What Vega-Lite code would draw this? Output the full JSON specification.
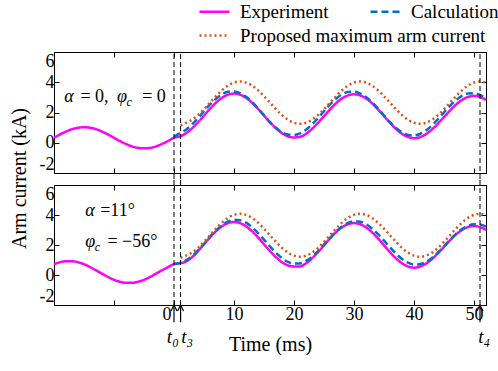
{
  "$schema": "https://vega.github.io/schema/vega-lite/v6.json",
  "padding": {"left": 8, "top": 2, "right": 0, "bottom": 0},
  "background": "white",
  "datasets": {
    "top": [
      {"s":"Experiment","t":-20,"v":0.33},{"s":"Experiment","t":-19,"v":0.55},{"s":"Experiment","t":-18,"v":0.74},{"s":"Experiment","t":-17,"v":0.90},{"s":"Experiment","t":-16,"v":0.99},{"s":"Experiment","t":-15,"v":1.03},{"s":"Experiment","t":-14,"v":0.99},{"s":"Experiment","t":-13,"v":0.90},{"s":"Experiment","t":-12,"v":0.74},{"s":"Experiment","t":-11,"v":0.55},{"s":"Experiment","t":-10,"v":0.33},{"s":"Experiment","t":-9,"v":0.11},{"s":"Experiment","t":-8,"v":-0.08},{"s":"Experiment","t":-7,"v":-0.24},{"s":"Experiment","t":-6,"v":-0.34},{"s":"Experiment","t":-5,"v":-0.37},{"s":"Experiment","t":-4,"v":-0.34},{"s":"Experiment","t":-3,"v":-0.24},{"s":"Experiment","t":-2,"v":-0.08},{"s":"Experiment","t":-1,"v":0.11},{"s":"Experiment","t":0,"v":0.33},
      {"s":"Experiment","t":1,"v":0.42},{"s":"Experiment","t":2,"v":0.63},{"s":"Experiment","t":3,"v":0.95},{"s":"Experiment","t":4,"v":1.35},{"s":"Experiment","t":5,"v":1.80},{"s":"Experiment","t":6,"v":2.25},{"s":"Experiment","t":7,"v":2.65},{"s":"Experiment","t":8,"v":2.97},{"s":"Experiment","t":9,"v":3.18},{"s":"Experiment","t":10,"v":3.25},{"s":"Experiment","t":11,"v":3.18},{"s":"Experiment","t":12,"v":2.97},{"s":"Experiment","t":13,"v":2.65},{"s":"Experiment","t":14,"v":2.25},{"s":"Experiment","t":15,"v":1.80},{"s":"Experiment","t":16,"v":1.35},{"s":"Experiment","t":17,"v":0.95},{"s":"Experiment","t":18,"v":0.63},{"s":"Experiment","t":19,"v":0.42},{"s":"Experiment","t":20,"v":0.35},
      {"s":"Experiment","t":21,"v":0.39},{"s":"Experiment","t":22,"v":0.59},{"s":"Experiment","t":23,"v":0.91},{"s":"Experiment","t":24,"v":1.32},{"s":"Experiment","t":25,"v":1.76},{"s":"Experiment","t":26,"v":2.20},{"s":"Experiment","t":27,"v":2.61},{"s":"Experiment","t":28,"v":2.93},{"s":"Experiment","t":29,"v":3.13},{"s":"Experiment","t":30,"v":3.20},{"s":"Experiment","t":31,"v":3.13},{"s":"Experiment","t":32,"v":2.93},{"s":"Experiment","t":33,"v":2.61},{"s":"Experiment","t":34,"v":2.20},{"s":"Experiment","t":35,"v":1.76},{"s":"Experiment","t":36,"v":1.32},{"s":"Experiment","t":37,"v":0.91},{"s":"Experiment","t":38,"v":0.59},{"s":"Experiment","t":39,"v":0.39},{"s":"Experiment","t":40,"v":0.30},
      {"s":"Experiment","t":41,"v":0.37},{"s":"Experiment","t":42,"v":0.57},{"s":"Experiment","t":43,"v":0.88},{"s":"Experiment","t":44,"v":1.27},{"s":"Experiment","t":45,"v":1.70},{"s":"Experiment","t":46,"v":2.13},{"s":"Experiment","t":47,"v":2.52},{"s":"Experiment","t":48,"v":2.83},{"s":"Experiment","t":49,"v":3.03},{"s":"Experiment","t":50,"v":3.10},{"s":"Experiment","t":51,"v":3.03},{"s":"Experiment","t":52,"v":2.83},
      {"s":"Calculation","t":0,"v":0.40},{"s":"Calculation","t":1,"v":0.64},{"s":"Calculation","t":2,"v":0.86},{"s":"Calculation","t":3,"v":1.21},{"s":"Calculation","t":4,"v":1.63},{"s":"Calculation","t":5,"v":2.09},{"s":"Calculation","t":6,"v":2.53},{"s":"Calculation","t":7,"v":2.91},{"s":"Calculation","t":8,"v":3.20},{"s":"Calculation","t":9,"v":3.37},{"s":"Calculation","t":10,"v":3.39},{"s":"Calculation","t":11,"v":3.28},{"s":"Calculation","t":12,"v":3.04},{"s":"Calculation","t":13,"v":2.69},{"s":"Calculation","t":14,"v":2.27},{"s":"Calculation","t":15,"v":1.81},{"s":"Calculation","t":16,"v":1.37},{"s":"Calculation","t":17,"v":0.99},{"s":"Calculation","t":18,"v":0.70},{"s":"Calculation","t":19,"v":0.54},
      {"s":"Calculation","t":20,"v":0.51},{"s":"Calculation","t":21,"v":0.62},{"s":"Calculation","t":22,"v":0.86},{"s":"Calculation","t":23,"v":1.21},{"s":"Calculation","t":24,"v":1.63},{"s":"Calculation","t":25,"v":2.09},{"s":"Calculation","t":26,"v":2.53},{"s":"Calculation","t":27,"v":2.91},{"s":"Calculation","t":28,"v":3.20},{"s":"Calculation","t":29,"v":3.36},{"s":"Calculation","t":30,"v":3.38},{"s":"Calculation","t":31,"v":3.27},{"s":"Calculation","t":32,"v":3.03},{"s":"Calculation","t":33,"v":2.68},{"s":"Calculation","t":34,"v":2.26},{"s":"Calculation","t":35,"v":1.80},{"s":"Calculation","t":36,"v":1.36},{"s":"Calculation","t":37,"v":0.98},{"s":"Calculation","t":38,"v":0.69},{"s":"Calculation","t":39,"v":0.52},
      {"s":"Calculation","t":40,"v":0.48},{"s":"Calculation","t":41,"v":0.58},{"s":"Calculation","t":42,"v":0.81},{"s":"Calculation","t":43,"v":1.15},{"s":"Calculation","t":44,"v":1.56},{"s":"Calculation","t":45,"v":2.01},{"s":"Calculation","t":46,"v":2.44},{"s":"Calculation","t":47,"v":2.82},{"s":"Calculation","t":48,"v":3.10},{"s":"Calculation","t":49,"v":3.26},{"s":"Calculation","t":50,"v":3.28},{"s":"Calculation","t":51,"v":3.17},{"s":"Calculation","t":52,"v":2.94},
      {"s":"Proposed maximum arm current","t":1.1,"v":1.15},{"s":"Proposed maximum arm current","t":2,"v":1.32},{"s":"Proposed maximum arm current","t":3,"v":1.52},{"s":"Proposed maximum arm current","t":4,"v":1.83},{"s":"Proposed maximum arm current","t":5,"v":2.22},{"s":"Proposed maximum arm current","t":6,"v":2.65},{"s":"Proposed maximum arm current","t":7,"v":3.08},{"s":"Proposed maximum arm current","t":8,"v":3.47},{"s":"Proposed maximum arm current","t":9,"v":3.78},{"s":"Proposed maximum arm current","t":10,"v":3.98},{"s":"Proposed maximum arm current","t":11,"v":4.05},{"s":"Proposed maximum arm current","t":12,"v":3.98},{"s":"Proposed maximum arm current","t":13,"v":3.78},{"s":"Proposed maximum arm current","t":14,"v":3.47},{"s":"Proposed maximum arm current","t":15,"v":3.08},{"s":"Proposed maximum arm current","t":16,"v":2.65},{"s":"Proposed maximum arm current","t":17,"v":2.22},{"s":"Proposed maximum arm current","t":18,"v":1.83},{"s":"Proposed maximum arm current","t":19,"v":1.52},{"s":"Proposed maximum arm current","t":20,"v":1.32},
      {"s":"Proposed maximum arm current","t":21,"v":1.25},{"s":"Proposed maximum arm current","t":22,"v":1.32},{"s":"Proposed maximum arm current","t":23,"v":1.52},{"s":"Proposed maximum arm current","t":24,"v":1.83},{"s":"Proposed maximum arm current","t":25,"v":2.22},{"s":"Proposed maximum arm current","t":26,"v":2.65},{"s":"Proposed maximum arm current","t":27,"v":3.08},{"s":"Proposed maximum arm current","t":28,"v":3.47},{"s":"Proposed maximum arm current","t":29,"v":3.78},{"s":"Proposed maximum arm current","t":30,"v":3.98},{"s":"Proposed maximum arm current","t":31,"v":4.05},{"s":"Proposed maximum arm current","t":32,"v":3.98},{"s":"Proposed maximum arm current","t":33,"v":3.78},{"s":"Proposed maximum arm current","t":34,"v":3.47},{"s":"Proposed maximum arm current","t":35,"v":3.08},{"s":"Proposed maximum arm current","t":36,"v":2.65},{"s":"Proposed maximum arm current","t":37,"v":2.22},{"s":"Proposed maximum arm current","t":38,"v":1.83},{"s":"Proposed maximum arm current","t":39,"v":1.52},{"s":"Proposed maximum arm current","t":40,"v":1.32},
      {"s":"Proposed maximum arm current","t":41,"v":1.25},{"s":"Proposed maximum arm current","t":42,"v":1.32},{"s":"Proposed maximum arm current","t":43,"v":1.52},{"s":"Proposed maximum arm current","t":44,"v":1.83},{"s":"Proposed maximum arm current","t":45,"v":2.22},{"s":"Proposed maximum arm current","t":46,"v":2.65},{"s":"Proposed maximum arm current","t":47,"v":3.08},{"s":"Proposed maximum arm current","t":48,"v":3.47},{"s":"Proposed maximum arm current","t":49,"v":3.78},{"s":"Proposed maximum arm current","t":50,"v":3.98},{"s":"Proposed maximum arm current","t":51,"v":4.05},{"s":"Proposed maximum arm current","t":52,"v":3.98}
    ],
    "bottom": [
      {"s":"Experiment","t":-20,"v":0.72},{"s":"Experiment","t":-19,"v":0.85},{"s":"Experiment","t":-18,"v":0.92},{"s":"Experiment","t":-17,"v":0.92},{"s":"Experiment","t":-16,"v":0.85},{"s":"Experiment","t":-15,"v":0.72},{"s":"Experiment","t":-14,"v":0.53},{"s":"Experiment","t":-13,"v":0.31},{"s":"Experiment","t":-12,"v":0.09},{"s":"Experiment","t":-11,"v":-0.13},{"s":"Experiment","t":-10,"v":-0.32},{"s":"Experiment","t":-9,"v":-0.45},{"s":"Experiment","t":-8,"v":-0.52},{"s":"Experiment","t":-7,"v":-0.52},{"s":"Experiment","t":-6,"v":-0.45},{"s":"Experiment","t":-5,"v":-0.32},{"s":"Experiment","t":-4,"v":-0.13},{"s":"Experiment","t":-3,"v":0.09},{"s":"Experiment","t":-2,"v":0.31},{"s":"Experiment","t":-1,"v":0.53},{"s":"Experiment","t":0,"v":0.72},
      {"s":"Experiment","t":1,"v":0.78},{"s":"Experiment","t":2,"v":0.90},{"s":"Experiment","t":3,"v":1.18},{"s":"Experiment","t":4,"v":1.59},{"s":"Experiment","t":5,"v":2.05},{"s":"Experiment","t":6,"v":2.51},{"s":"Experiment","t":7,"v":2.92},{"s":"Experiment","t":8,"v":3.25},{"s":"Experiment","t":9,"v":3.46},{"s":"Experiment","t":10,"v":3.53},{"s":"Experiment","t":11,"v":3.46},{"s":"Experiment","t":12,"v":3.25},{"s":"Experiment","t":13,"v":2.92},{"s":"Experiment","t":14,"v":2.51},{"s":"Experiment","t":15,"v":2.05},{"s":"Experiment","t":16,"v":1.59},{"s":"Experiment","t":17,"v":1.18},{"s":"Experiment","t":18,"v":0.85},{"s":"Experiment","t":19,"v":0.64},{"s":"Experiment","t":20,"v":0.57},
      {"s":"Experiment","t":21,"v":0.57},{"s":"Experiment","t":22,"v":0.78},{"s":"Experiment","t":23,"v":1.11},{"s":"Experiment","t":24,"v":1.52},{"s":"Experiment","t":25,"v":1.98},{"s":"Experiment","t":26,"v":2.44},{"s":"Experiment","t":27,"v":2.85},{"s":"Experiment","t":28,"v":3.18},{"s":"Experiment","t":29,"v":3.39},{"s":"Experiment","t":30,"v":3.46},{"s":"Experiment","t":31,"v":3.39},{"s":"Experiment","t":32,"v":3.18},{"s":"Experiment","t":33,"v":2.85},{"s":"Experiment","t":34,"v":2.44},{"s":"Experiment","t":35,"v":1.98},{"s":"Experiment","t":36,"v":1.52},{"s":"Experiment","t":37,"v":1.11},{"s":"Experiment","t":38,"v":0.78},{"s":"Experiment","t":39,"v":0.57},{"s":"Experiment","t":40,"v":0.49},
      {"s":"Experiment","t":41,"v":0.56},{"s":"Experiment","t":42,"v":0.76},{"s":"Experiment","t":43,"v":1.06},{"s":"Experiment","t":44,"v":1.45},{"s":"Experiment","t":45,"v":1.88},{"s":"Experiment","t":46,"v":2.31},{"s":"Experiment","t":47,"v":2.70},{"s":"Experiment","t":48,"v":3.00},{"s":"Experiment","t":49,"v":3.20},{"s":"Experiment","t":50,"v":3.27},{"s":"Experiment","t":51,"v":3.20},{"s":"Experiment","t":52,"v":3.00},
      {"s":"Calculation","t":0,"v":0.74},{"s":"Calculation","t":1,"v":0.80},{"s":"Calculation","t":2,"v":0.97},{"s":"Calculation","t":3,"v":1.25},{"s":"Calculation","t":4,"v":1.64},{"s":"Calculation","t":5,"v":2.08},{"s":"Calculation","t":6,"v":2.54},{"s":"Calculation","t":7,"v":2.97},{"s":"Calculation","t":8,"v":3.32},{"s":"Calculation","t":9,"v":3.57},{"s":"Calculation","t":10,"v":3.68},{"s":"Calculation","t":11,"v":3.65},{"s":"Calculation","t":12,"v":3.49},{"s":"Calculation","t":13,"v":3.19},{"s":"Calculation","t":14,"v":2.80},{"s":"Calculation","t":15,"v":2.36},{"s":"Calculation","t":16,"v":1.90},{"s":"Calculation","t":17,"v":1.47},{"s":"Calculation","t":18,"v":1.12},{"s":"Calculation","t":19,"v":0.87},
      {"s":"Calculation","t":20,"v":0.76},{"s":"Calculation","t":21,"v":0.77},{"s":"Calculation","t":22,"v":0.94},{"s":"Calculation","t":23,"v":1.21},{"s":"Calculation","t":24,"v":1.59},{"s":"Calculation","t":25,"v":2.02},{"s":"Calculation","t":26,"v":2.47},{"s":"Calculation","t":27,"v":2.89},{"s":"Calculation","t":28,"v":3.23},{"s":"Calculation","t":29,"v":3.47},{"s":"Calculation","t":30,"v":3.58},{"s":"Calculation","t":31,"v":3.55},{"s":"Calculation","t":32,"v":3.39},{"s":"Calculation","t":33,"v":3.10},{"s":"Calculation","t":34,"v":2.72},{"s":"Calculation","t":35,"v":2.29},{"s":"Calculation","t":36,"v":1.84},{"s":"Calculation","t":37,"v":1.42},{"s":"Calculation","t":38,"v":1.07},{"s":"Calculation","t":39,"v":0.82},
      {"s":"Calculation","t":40,"v":0.70},{"s":"Calculation","t":41,"v":0.72},{"s":"Calculation","t":42,"v":0.88},{"s":"Calculation","t":43,"v":1.14},{"s":"Calculation","t":44,"v":1.50},{"s":"Calculation","t":45,"v":1.91},{"s":"Calculation","t":46,"v":2.34},{"s":"Calculation","t":47,"v":2.74},{"s":"Calculation","t":48,"v":3.06},{"s":"Calculation","t":49,"v":3.28},{"s":"Calculation","t":50,"v":3.38},{"s":"Calculation","t":51,"v":3.36},{"s":"Calculation","t":52,"v":3.22},
      {"s":"Proposed maximum arm current","t":1.1,"v":1.15},{"s":"Proposed maximum arm current","t":2,"v":1.29},{"s":"Proposed maximum arm current","t":3,"v":1.49},{"s":"Proposed maximum arm current","t":4,"v":1.81},{"s":"Proposed maximum arm current","t":5,"v":2.21},{"s":"Proposed maximum arm current","t":6,"v":2.65},{"s":"Proposed maximum arm current","t":7,"v":3.09},{"s":"Proposed maximum arm current","t":8,"v":3.49},{"s":"Proposed maximum arm current","t":9,"v":3.81},{"s":"Proposed maximum arm current","t":10,"v":4.01},{"s":"Proposed maximum arm current","t":11,"v":4.08},{"s":"Proposed maximum arm current","t":12,"v":4.01},{"s":"Proposed maximum arm current","t":13,"v":3.81},{"s":"Proposed maximum arm current","t":14,"v":3.49},{"s":"Proposed maximum arm current","t":15,"v":3.09},{"s":"Proposed maximum arm current","t":16,"v":2.65},{"s":"Proposed maximum arm current","t":17,"v":2.21},{"s":"Proposed maximum arm current","t":18,"v":1.81},{"s":"Proposed maximum arm current","t":19,"v":1.49},{"s":"Proposed maximum arm current","t":20,"v":1.29},
      {"s":"Proposed maximum arm current","t":21,"v":1.22},{"s":"Proposed maximum arm current","t":22,"v":1.29},{"s":"Proposed maximum arm current","t":23,"v":1.49},{"s":"Proposed maximum arm current","t":24,"v":1.81},{"s":"Proposed maximum arm current","t":25,"v":2.21},{"s":"Proposed maximum arm current","t":26,"v":2.65},{"s":"Proposed maximum arm current","t":27,"v":3.09},{"s":"Proposed maximum arm current","t":28,"v":3.49},{"s":"Proposed maximum arm current","t":29,"v":3.81},{"s":"Proposed maximum arm current","t":30,"v":4.01},{"s":"Proposed maximum arm current","t":31,"v":4.08},{"s":"Proposed maximum arm current","t":32,"v":4.01},{"s":"Proposed maximum arm current","t":33,"v":3.81},{"s":"Proposed maximum arm current","t":34,"v":3.49},{"s":"Proposed maximum arm current","t":35,"v":3.09},{"s":"Proposed maximum arm current","t":36,"v":2.65},{"s":"Proposed maximum arm current","t":37,"v":2.21},{"s":"Proposed maximum arm current","t":38,"v":1.81},{"s":"Proposed maximum arm current","t":39,"v":1.49},{"s":"Proposed maximum arm current","t":40,"v":1.29},
      {"s":"Proposed maximum arm current","t":41,"v":1.22},{"s":"Proposed maximum arm current","t":42,"v":1.29},{"s":"Proposed maximum arm current","t":43,"v":1.49},{"s":"Proposed maximum arm current","t":44,"v":1.81},{"s":"Proposed maximum arm current","t":45,"v":2.21},{"s":"Proposed maximum arm current","t":46,"v":2.65},{"s":"Proposed maximum arm current","t":47,"v":3.09},{"s":"Proposed maximum arm current","t":48,"v":3.49},{"s":"Proposed maximum arm current","t":49,"v":3.81},{"s":"Proposed maximum arm current","t":50,"v":4.01},{"s":"Proposed maximum arm current","t":51,"v":4.08},{"s":"Proposed maximum arm current","t":52,"v":4.01}
    ],
    "rulesTop": [{"t":0,"a":-2.4,"b":6},{"t":1.1,"a":-2.4,"b":6},{"t":51,"a":-2.4,"b":6}],
    "rulesBottom": [{"t":0,"a":-2,"b":6.4},{"t":1.1,"a":-2,"b":6.4},{"t":51,"a":-2,"b":6.4}],
    "arrows": [{"t":0,"a":-3.15,"b":-2,"h":-2.2},{"t":1.1,"a":-3.15,"b":-2,"h":-2.2},{"t":51,"a":-3.15,"b":-2,"h":-2.2}],
    "tlabels": [{"t":-0.2,"v":-4.15,"txt":"t₀"},{"t":2.2,"v":-4.15,"txt":"t₃"},{"t":51.7,"v":-4.15,"txt":"t₄"}],
    "annTopIt": [{"t":-18.3,"v":3.0,"txt":"α"},{"t":-9.5,"v":3.0,"txt":"φ"}],
    "annTopSub": [{"t":-7.9,"v":3.0,"txt":"c"}],
    "annTopUp": [{"t":-15.6,"v":3.0,"txt":"= 0,"},{"t":-5.3,"v":3.0,"txt":"= 0"}],
    "annBotIt": [{"t":-14.8,"v":4.27,"txt":"α"},{"t":-14.8,"v":2.2,"txt":"φ"}],
    "annBotSub": [{"t":-13.2,"v":2.2,"txt":"c"}],
    "annBotUp": [{"t":-12.3,"v":4.27,"txt":"=11°"},{"t":-11.1,"v":2.2,"txt":"= −56°"}]
  },
  "config": {
    "font": "Liberation Serif",
    "view": {"stroke": "black", "strokeWidth": 1},
    "axis": {"grid": false, "domainColor": "black", "tickColor": "black", "labelColor": "black", "titleColor": "black", "labelFont": "Liberation Serif", "titleFont": "Liberation Serif", "labelFontSize": 18, "titleFontSize": 20, "titleFontWeight": "normal", "tickSize": -5, "labelPadding": 5},
    "legend": {"symbolType": "M-2,0H2", "symbolSize": 225, "symbolStrokeWidth": 2.5, "labelFont": "Liberation Serif", "labelFontSize": 19, "labelColor": "black", "labelOffset": 16, "labelLimit": 400, "title": null}
  },
  "bounds": "flush",
  "spacing": 12,
  "vconcat": [
    {
      "width": 432, "height": 121,
      "layer": [
        {
          "data": {"name": "top"},
          "mark": {"type": "line", "interpolate": "monotone"},
          "encoding": {
            "x": {"field": "t", "type": "quantitative", "scale": {"domain": [-20, 52], "nice": false, "zero": false}, "axis": {"orient": "bottom", "values": [-10,0,10,20,30,40,50], "labels": false, "title": null}},
            "y": {"field": "v", "type": "quantitative", "scale": {"domain": [-2, 6], "nice": false, "zero": false}, "axis": {"orient": "left", "values": [-2,0,2,4,6], "labelExpr": "'' + datum.value", "labelFlush": true, "title": "Arm current (kA)", "titleY": 126, "titlePadding": 10}},
            "color": {"field": "s", "type": "nominal", "scale": {"domain": ["Experiment","Calculation","Proposed maximum arm current"], "range": ["#FF00FF","#0072BD","#D95319"]}, "legend": {"title": null, "values": ["Experiment","Calculation"], "orient": "none", "legendX": 151, "legendY": -50, "direction": "horizontal", "columns": 2, "columnPadding": 36}},
            "strokeDash": {"field": "s", "type": "nominal", "scale": {"domain": ["Experiment","Calculation","Proposed maximum arm current"], "range": [[1,0],[7,4],[2,3]]}, "legend": {"title": null, "values": ["Experiment","Calculation"], "orient": "none", "legendX": 151, "legendY": -50, "direction": "horizontal", "columns": 2, "columnPadding": 36}},
            "strokeWidth": {"field": "s", "type": "nominal", "scale": {"domain": ["Proposed maximum arm current","Experiment","Calculation"], "range": [2.5,2.5,2.5]}, "legend": {"title": null, "values": ["Proposed maximum arm current"], "orient": "none", "legendX": 151, "legendY": -26, "symbolStrokeColor": "#D95319", "symbolDash": [2,3]}},
            "order": {"field": "t"}
          }
        },
        {
          "data": {"name": "rulesTop"},
          "mark": {"type": "rule", "color": "black", "strokeWidth": 1, "strokeDash": [5,3], "clip": false},
          "encoding": {
            "x": {"field": "t", "type": "quantitative", "axis": {"orient": "top", "values": [-10,0,10,20,30,40,50], "labels": false, "title": null}},
            "y": {"field": "a", "type": "quantitative", "axis": {"orient": "right", "values": [-2,0,2,4,6], "labels": false, "title": null}},
            "y2": {"field": "b"}
          }
        },
        {
          "data": {"name": "annTopIt"},
          "mark": {"type": "text", "align": "left", "baseline": "middle", "fontSize": 18, "fontStyle": "italic", "color": "black"},
          "encoding": {"x": {"field": "t", "type": "quantitative", "axis": null}, "y": {"field": "v", "type": "quantitative", "axis": null}, "text": {"field": "txt"}}
        },
        {
          "data": {"name": "annTopSub"},
          "mark": {"type": "text", "align": "left", "baseline": "middle", "fontSize": 12, "fontStyle": "italic", "dy": 5, "color": "black"},
          "encoding": {"x": {"field": "t", "type": "quantitative", "axis": null}, "y": {"field": "v", "type": "quantitative", "axis": null}, "text": {"field": "txt"}}
        },
        {
          "data": {"name": "annTopUp"},
          "mark": {"type": "text", "align": "left", "baseline": "middle", "fontSize": 18, "color": "black"},
          "encoding": {"x": {"field": "t", "type": "quantitative", "axis": null}, "y": {"field": "v", "type": "quantitative", "axis": null}, "text": {"field": "txt"}}
        }
      ],
      "resolve": {"axis": {"x": "independent", "y": "independent"}}
    },
    {
      "width": 432, "height": 120,
      "layer": [
        {
          "data": {"name": "bottom"},
          "mark": {"type": "line", "interpolate": "monotone"},
          "encoding": {
            "x": {"field": "t", "type": "quantitative", "scale": {"domain": [-20, 52], "nice": false, "zero": false}, "axis": {"orient": "bottom", "values": [-10,0,10,20,30,40,50], "labelExpr": "datum.value < 0 ? '' : datum.label", "labelAlign": {"condition": {"test": "datum.value == 0", "value": "right"}, "value": "center"}, "labelOffset": {"condition": {"test": "datum.value == 0", "value": -3}, "value": 0}, "title": "Time (ms)", "titlePadding": 11}},
            "y": {"field": "v", "type": "quantitative", "scale": {"domain": [-2, 6], "nice": false, "zero": false}, "axis": {"orient": "left", "values": [-2,0,2,4,6], "labelExpr": "'' + datum.value", "labelFlush": true, "title": null}},
            "color": {"field": "s", "type": "nominal", "legend": {"title": null, "values": ["Experiment","Calculation"], "orient": "none", "legendX": 151, "legendY": -50, "direction": "horizontal", "columns": 2, "columnPadding": 36}},
            "strokeDash": {"field": "s", "type": "nominal", "legend": {"title": null, "values": ["Experiment","Calculation"], "orient": "none", "legendX": 151, "legendY": -50, "direction": "horizontal", "columns": 2, "columnPadding": 36}},
            "strokeWidth": {"field": "s", "type": "nominal", "legend": {"title": null, "values": ["Proposed maximum arm current"], "orient": "none", "legendX": 151, "legendY": -26, "symbolStrokeColor": "#D95319", "symbolDash": [2,3]}},
            "order": {"field": "t"}
          }
        },
        {
          "data": {"name": "rulesBottom"},
          "mark": {"type": "rule", "color": "black", "strokeWidth": 1, "strokeDash": [5,3], "clip": false},
          "encoding": {
            "x": {"field": "t", "type": "quantitative", "axis": {"orient": "top", "values": [-10,0,10,20,30,40,50], "labels": false, "title": null}},
            "y": {"field": "a", "type": "quantitative", "axis": {"orient": "right", "values": [-2,0,2,4,6], "labels": false, "title": null}},
            "y2": {"field": "b"}
          }
        },
        {
          "data": {"name": "arrows"},
          "mark": {"type": "rule", "color": "black", "strokeWidth": 1.2, "clip": false},
          "encoding": {"x": {"field": "t", "type": "quantitative", "axis": null}, "y": {"field": "a", "type": "quantitative", "axis": null}, "y2": {"field": "b"}}
        },
        {
          "data": {"name": "arrows"},
          "mark": {"type": "point", "shape": "M-1,1L0,-1L1,1", "size": 36, "filled": false, "stroke": "black", "strokeWidth": 1.2, "opacity": 1, "clip": false},
          "encoding": {"x": {"field": "t", "type": "quantitative", "axis": null}, "y": {"field": "h", "type": "quantitative", "axis": null}}
        },
        {
          "data": {"name": "tlabels"},
          "mark": {"type": "text", "align": "center", "baseline": "middle", "fontSize": 19, "fontStyle": "italic", "color": "black", "clip": false},
          "encoding": {"x": {"field": "t", "type": "quantitative", "axis": null}, "y": {"field": "v", "type": "quantitative", "axis": null}, "text": {"field": "txt"}}
        },
        {
          "data": {"name": "annBotIt"},
          "mark": {"type": "text", "align": "left", "baseline": "middle", "fontSize": 18, "fontStyle": "italic", "color": "black"},
          "encoding": {"x": {"field": "t", "type": "quantitative", "axis": null}, "y": {"field": "v", "type": "quantitative", "axis": null}, "text": {"field": "txt"}}
        },
        {
          "data": {"name": "annBotSub"},
          "mark": {"type": "text", "align": "left", "baseline": "middle", "fontSize": 12, "fontStyle": "italic", "dy": 5, "color": "black"},
          "encoding": {"x": {"field": "t", "type": "quantitative", "axis": null}, "y": {"field": "v", "type": "quantitative", "axis": null}, "text": {"field": "txt"}}
        },
        {
          "data": {"name": "annBotUp"},
          "mark": {"type": "text", "align": "left", "baseline": "middle", "fontSize": 18, "color": "black"},
          "encoding": {"x": {"field": "t", "type": "quantitative", "axis": null}, "y": {"field": "v", "type": "quantitative", "axis": null}, "text": {"field": "txt"}}
        }
      ],
      "resolve": {"axis": {"x": "independent", "y": "independent"}}
    }
  ]
}
